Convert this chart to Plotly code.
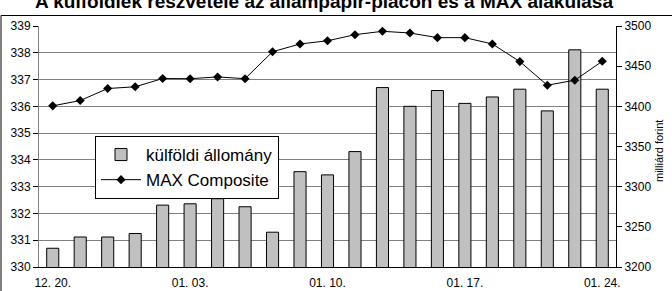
import plotly.graph_objects as go

dates = ["12. 20.", "12. 21.", "12. 22.", "12. 23.", "12. 27.",
         "01. 03.", "01. 04.", "01. 05.", "01. 06.", "01. 07.",
         "01. 10.", "01. 11.", "01. 12.", "01. 13.", "01. 14.",
         "01. 17.", "01. 18.", "01. 19.", "01. 20.", "01. 21.",
         "01. 24."]
tick_labels = ["12. 20.", "01. 03.", "01. 10.", "01. 17.", "01. 24."]

kulfoldi = [330.70, 331.12, 331.12, 331.25, 332.31,
            332.36, 332.55, 332.25, 331.30, 333.56,
            333.44, 334.31, 336.70, 336.00, 336.59,
            336.11, 336.35, 336.64, 335.83, 338.11,
            336.64]
max_comp = [3400.6, 3407.2, 3422.2, 3424.3, 3434.6,
            3434.4, 3436.6, 3434.4, 3468.0, 3477.6,
            3481.6, 3489.2, 3493.4, 3491.3, 3485.5,
            3485.5, 3477.6, 3455.7, 3426.3, 3432.5,
            3456.1]

FONT = "Liberation Sans, Arial, sans-serif"
L, R, T, B = 39, 616, 26, 267
PW, PH = R - L, B - T

def px(x):
    return (x - L) / PW

def py(y):
    return (B - y) / PH

fig = go.Figure()
fig.add_trace(go.Bar(
    x=dates, y=kulfoldi, name="külföldi állomány", legendgroup="a",
    marker=dict(color="#C0C0C0", line=dict(color="#000000", width=1)),
    yaxis="y",
))
fig.add_trace(go.Scatter(
    x=dates, y=max_comp, name="MAX Composite", mode="lines+markers", legendgroup="b",
    line=dict(color="#000000", width=1),
    marker=dict(symbol="diamond", size=7, color="#000000"),
    yaxis="y2",
))

fig.update_layout(
    width=672, height=291,
    margin=dict(l=L, r=672 - R, t=T, b=291 - B, autoexpand=False),
    paper_bgcolor="white", plot_bgcolor="white",
    font=dict(family=FONT, size=12, color="#000000"),
    bargap=0.56,
    showlegend=True,
    legend=dict(
        x=px(95), y=py(136), xanchor="left", yanchor="top",
        bgcolor="white", bordercolor="#000000", borderwidth=1,
        font=dict(family=FONT, size=17, color="#000000"),
        tracegroupgap=0, itemwidth=40,
    ),
    xaxis=dict(
        type="category", tickmode="array", tickvals=tick_labels, ticktext=tick_labels,
        range=[-0.5, len(dates) - 0.5], automargin=False,
        showline=True, linecolor="#000000", linewidth=1,
        ticks="outside", ticklen=5, tickcolor="rgba(255,255,255,0)",
        showgrid=False, tickfont=dict(size=12), tickangle=0,
    ),
    yaxis=dict(
        range=[330, 339], dtick=1, tick0=330, automargin=False,
        showline=True, linecolor="#808080", linewidth=1,
        ticks="outside", ticklen=5, tickcolor="#000000",
        showgrid=True, gridcolor="#808080", gridwidth=1,
        zeroline=False, tickfont=dict(size=12),
    ),
    yaxis2=dict(
        range=[3200, 3500], dtick=50, tick0=3200, automargin=False,
        overlaying="y", side="right",
        showline=True, linecolor="#000000", linewidth=1,
        ticks="outside", ticklen=5, tickcolor="#000000",
        showgrid=False, zeroline=False, tickfont=dict(size=12),
    ),
    annotations=[
        dict(text="<b>A külföldiek részvétele az állampapír-piacon és a MAX alakulása</b>",
             xref="paper", yref="paper", x=px(324), y=py(2),
             xanchor="center", yanchor="middle", showarrow=False,
             font=dict(family=FONT, size=19, color="#000000")),
        dict(text="milliárd forint", textangle=-90,
             xref="paper", yref="paper", x=px(659), y=py(151),
             xanchor="center", yanchor="middle", showarrow=False,
             font=dict(family=FONT, size=11, color="#000000")),
    ],
    shapes=[
        dict(type="line", xref="paper", yref="paper",
             x0=px(1), x1=px(1), y0=py(15.5), y1=py(300),
             line=dict(color="#000000", width=1)),
        dict(type="line", xref="paper", yref="paper",
             x0=px(1), x1=px(680), y0=py(15.5), y1=py(15.5),
             line=dict(color="#000000", width=1)),
    ],
)

fig.write_html(
    "out.html",
    config={"displayModeBar": False},
    post_script="document.body.style.margin='0';document.body.style.overflow='hidden';",
)
